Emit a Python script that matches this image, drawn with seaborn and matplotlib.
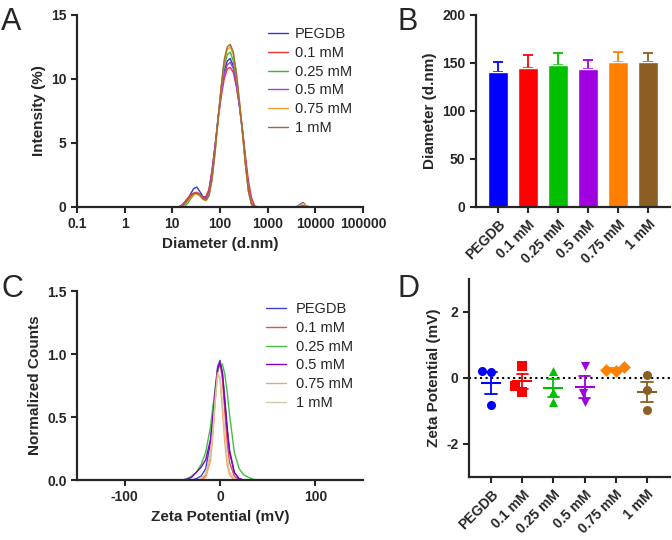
import numpy as np
import pandas as pd
import matplotlib
matplotlib.use('Agg')
import matplotlib.pyplot as plt
import seaborn as sns

# ---- data ----
groups = ['PEGDB', '0.1 mM', '0.25 mM', '0.5 mM', '0.75 mM', '1 mM']

# A: DLS intensity distributions
diam = [0.4, 13.54, 15.69, 18.17, 21.04, 24.36, 28.21, 32.67, 37.84, 43.82, 50.75,
        58.77, 68.06, 78.82, 91.28, 105.7, 122.4, 141.8, 164.2, 190.1, 220.2, 255.0,
        295.3, 342.0, 396.1, 458.7, 531.2, 615.1, 2669, 3091, 3580, 4145, 4801,
        5560, 6439, 7456, 10000]
int_pegdb = [0, 0, 0.05, 0.25, 0.6, 1.05, 1.45, 1.55, 1.2, 0.8, 0.75, 1.3, 2.8, 4.8, 7.0,
             9.0, 10.6, 11.4, 11.6, 11.0, 9.7, 8.0, 6.0, 3.6, 1.4, 0.3, 0, 0, 0, 0, 0,
             0.05, 0.2, 0.35, 0.1, 0, 0]
int_01 = [0, 0.02, 0.15, 0.4, 0.7, 0.95, 1.1, 1.15, 1.0, 0.75, 0.8, 1.4, 2.9, 4.8, 6.8,
          8.6, 10.0, 10.8, 10.9, 10.5, 9.4, 7.9, 6.1, 4.0, 2.0, 0.7, 0.1, 0, 0, 0, 0,
          0, 0.05, 0.12, 0.05, 0, 0]
int_025 = [0, 0, 0, 0.05, 0.3, 0.65, 0.95, 1.05, 0.9, 0.6, 0.5, 0.9, 2.3, 4.5, 7.0,
           9.3, 11.0, 11.9, 12.1, 11.4, 9.9, 8.0, 5.8, 3.3, 1.2, 0.2, 0, 0, 0, 0, 0,
           0, 0, 0, 0, 0, 0]
int_05 = [0, 0, 0.08, 0.3, 0.6, 0.9, 1.05, 1.1, 0.95, 0.7, 0.65, 1.2, 2.7, 4.7, 6.9,
          8.8, 10.4, 11.1, 11.3, 10.8, 9.6, 7.9, 5.9, 3.6, 1.5, 0.35, 0, 0, 0, 0, 0,
          0, 0.03, 0.08, 0, 0, 0]
int_075 = [0, 0, 0.05, 0.2, 0.45, 0.75, 0.95, 1.0, 0.85, 0.6, 0.5, 0.85, 2.1, 4.2, 6.8,
           9.3, 11.3, 12.3, 12.5, 11.9, 10.4, 8.3, 5.9, 3.3, 1.2, 0.2, 0, 0, 0, 0, 0,
           0.03, 0.15, 0.3, 0.1, 0, 0]
int_1 = [0, 0, 0.05, 0.25, 0.55, 0.85, 1.05, 1.1, 0.95, 0.65, 0.55, 0.9, 2.2, 4.3, 6.9,
         9.4, 11.5, 12.5, 12.7, 12.1, 10.5, 8.3, 5.9, 3.3, 1.2, 0.2, 0, 0, 0, 0, 0,
         0, 0, 0, 0, 0, 0]

# B: mean diameter and SD
diam_mean = [140.5, 145.0, 147.5, 144.0, 151.0, 151.0]
diam_sd = [11.0, 13.0, 12.5, 9.5, 10.5, 9.0]

# C: zeta potential distributions
zeta = [-150, -40, -35, -30, -25, -20, -15, -10, -7.5, -5, -2.5, 0, 2.5, 5, 7.5,
        10, 15, 20, 25, 30, 35, 40, 150]
cnt_pegdb = [0, 0, 0, 0, 0.01, 0.03, 0.09, 0.3, 0.5, 0.72, 0.9, 0.95, 0.85, 0.65, 0.42,
             0.24, 0.06, 0.01, 0, 0, 0, 0, 0]
cnt_01 = [0, 0, 0, 0, 0, 0, 0.04, 0.2, 0.4, 0.65, 0.88, 0.93, 0.8, 0.55, 0.3,
          0.14, 0.03, 0, 0, 0, 0, 0, 0]
cnt_025 = [0, 0, 0.01, 0.03, 0.06, 0.12, 0.22, 0.42, 0.58, 0.73, 0.86, 0.92, 0.92, 0.84, 0.7,
           0.52, 0.22, 0.09, 0.04, 0.02, 0.005, 0, 0]
cnt_05 = [0, 0, 0.005, 0.02, 0.06, 0.1, 0.16, 0.32, 0.5, 0.7, 0.88, 0.93, 0.85, 0.62, 0.4,
          0.22, 0.06, 0.01, 0, 0, 0, 0, 0]
cnt_075 = [0, 0, 0, 0, 0, 0, 0.02, 0.15, 0.35, 0.62, 0.85, 0.8, 0.55, 0.3, 0.12,
           0.04, 0, 0, 0, 0, 0, 0, 0]
cnt_1 = [0, 0, 0, 0, 0, 0.01, 0.05, 0.2, 0.4, 0.65, 0.83, 0.82, 0.62, 0.38, 0.18,
         0.07, 0.01, 0, 0, 0, 0, 0, 0]

# D: zeta potential replicates
zp_pegdb = [0.2, 0.18, -0.82]
zp_01 = [0.35, -0.25, -0.42]
zp_025 = [0.2, -0.42, -0.73]
zp_05 = [0.35, -0.45, -0.72]
zp_075 = [0.21, 0.33, 0.23]
zp_1 = [0.08, -0.37, -0.96]

# ---- style ----
line_cols_a = ['#3333dd', '#ee3333', '#33bb33', '#a040e0', '#eea030', '#a06a2a']
line_cols_c = ['#4040c8', '#e05050', '#40c040', '#8000c0', '#f0a860', '#d8c8a8']
bar_cols = ['#0000ff', '#ff0000', '#00c000', '#a000e0', '#ff8000', '#8b5e23']
markers = ['o', 's', '^', 'v', 'D', 'o']

sns.set_style('ticks')
plt.rcParams['font.family'] = ['Liberation Sans', 'DejaVu Sans']
plt.rcParams['axes.unicode_minus'] = False
plt.rcParams['axes.linewidth'] = 1.6
plt.rcParams['xtick.major.width'] = 1.5
plt.rcParams['ytick.major.width'] = 1.5
plt.rcParams['xtick.major.size'] = 4
plt.rcParams['ytick.major.size'] = 4

fig = plt.figure(figsize=(6.72, 5.4), dpi=100)
axA = fig.add_axes([0.1146, 0.6167, 0.4256, 0.3556])
axB = fig.add_axes([0.7083, 0.6167, 0.2887, 0.3556])
axC = fig.add_axes([0.1146, 0.1111, 0.4256, 0.35])
axD = fig.add_axes([0.6979, 0.1167, 0.2990, 0.3667])

lab_font = dict(fontsize=11, fontweight='bold')
leg_kw = dict(loc='upper left', frameon=False, fontsize=10.5, borderaxespad=0,
              borderpad=0, handlelength=1.4, labelspacing=0.32)


def style_axis(ax):
    sns.despine(ax=ax)
    for lab in ax.get_xticklabels() + ax.get_yticklabels():
        lab.set_fontweight('bold')
        lab.set_fontsize(10)


# ---- A ----
int_all = [int_pegdb, int_01, int_025, int_05, int_075, int_1]
df_a = pd.DataFrame({'Diameter': diam * 6,
                     'Intensity': sum(int_all, []),
                     'Sample': np.repeat(groups, len(diam))})
sns.lineplot(data=df_a, x='Diameter', y='Intensity', hue='Sample', hue_order=groups,
             palette=line_cols_a, linewidth=1.0, ax=axA, sort=False)
axA.set_xscale('log')
axA.set_xlim(0.1, 100000)
axA.set_ylim(0, 15)
axA.set_xticks([0.1, 1, 10, 100, 1000, 10000, 100000])
axA.set_xticklabels(['0.1', '1', '10', '100', '1000', '10000', '100000'])
axA.xaxis.set_minor_locator(matplotlib.ticker.NullLocator())
axA.set_yticks([0, 5, 10, 15])
axA.set_xlabel('Diameter (d.nm)', **lab_font)
axA.set_ylabel('Intensity (%)', **lab_font)
style_axis(axA)
axA.legend(bbox_to_anchor=(0.667, 0.935), handletextpad=0.45, **leg_kw)

# ---- B ----
sns.barplot(x=groups, y=diam_mean, hue=groups, palette=bar_cols, legend=False,
            saturation=1, width=0.67, ax=axB, zorder=2)
for i, col in enumerate(bar_cols):
    axB.errorbar(i, diam_mean[i], yerr=[[0], [diam_sd[i]]], color=col,
                 capsize=3.6, elinewidth=1.3, capthick=1.3, zorder=1)
axB.set_ylim(0, 200)
axB.set_xlim(-0.73, 5.73)
axB.set_yticks([0, 50, 100, 150, 200])
axB.set_ylabel('Diameter (d.nm)', **lab_font)
axB.set_xlabel('')
style_axis(axB)
plt.setp(axB.get_xticklabels(), rotation=45, ha='right', rotation_mode='anchor')

# ---- C ----
cnt_all = [cnt_pegdb, cnt_01, cnt_025, cnt_05, cnt_075, cnt_1]
df_c = pd.DataFrame({'Zeta': zeta * 6,
                     'Counts': sum(cnt_all, []),
                     'Sample': np.repeat(groups, len(zeta))})
sns.lineplot(data=df_c, x='Zeta', y='Counts', hue='Sample', hue_order=groups,
             palette=line_cols_c, linewidth=1.0, ax=axC, sort=False)
axC.set_xlim(-150, 150)
axC.set_ylim(0, 1.5)
axC.set_xticks([-100, 0, 100])
axC.set_yticks([0, 0.5, 1.0, 1.5])
axC.set_yticklabels(['0.0', '0.5', '1.0', '1.5'])
axC.set_xlabel('Zeta Potential (mV)', **lab_font)
axC.set_ylabel('Normalized Counts', **lab_font)
style_axis(axC)
axC.legend(bbox_to_anchor=(0.66, 0.94), handletextpad=0.65, **leg_kw)

# ---- D ----
zp_all = [zp_pegdb, zp_01, zp_025, zp_05, zp_075, zp_1]
df_d = pd.DataFrame({'Sample': np.repeat(groups, 3), 'Zeta': sum(zp_all, [])})
axD.axhline(0, color='black', linestyle=':', linewidth=1.5, zorder=0)
for g, col, mk in zip(groups, bar_cols, markers):
    sub = df_d[df_d['Sample'] == g]
    sns.swarmplot(data=sub, x='Sample', y='Zeta', order=groups, color=col, marker=mk,
                  size=6.5, ax=axD)
    sns.pointplot(data=sub, x='Sample', y='Zeta', order=groups, color=col,
                  errorbar='se', capsize=0.38, markers='_', markersize=14,
                  markeredgewidth=1.5, linestyle='none', err_kws={'linewidth': 1.3},
                  ax=axD)
axD.set_ylim(-3, 3)
axD.set_xlim(-0.72, 5.75)
axD.set_yticks([-2, 0, 2])
axD.set_ylabel('Zeta Potential (mV)', **lab_font)
axD.set_xlabel('')
style_axis(axD)
plt.setp(axD.get_xticklabels(), rotation=45, ha='right', rotation_mode='anchor')

# panel letters
fig.text(0.002, 0.945, 'A', fontsize=22)
fig.text(0.592, 0.945, 'B', fontsize=22)
fig.text(0.002, 0.45, 'C', fontsize=22)
fig.text(0.592, 0.45, 'D', fontsize=22)

fig.savefig('out.png', dpi=100)
